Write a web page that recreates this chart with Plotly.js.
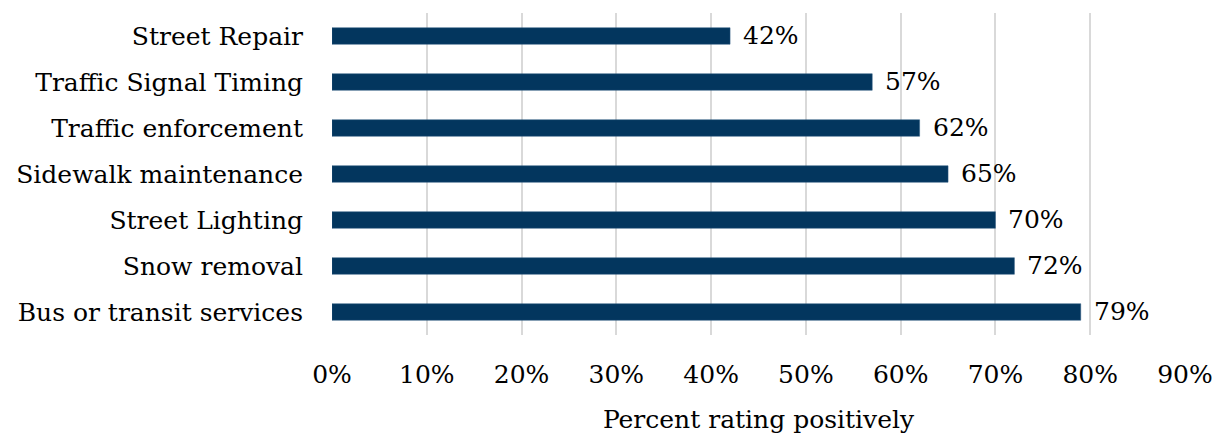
<!DOCTYPE html>
<html>
<head>
<meta charset="utf-8">
<script src="https://cdn.plot.ly/plotly-3.0.1.min.js"></script>
<style>html,body{margin:0;padding:0;background:#fff;}#chart{width:1217px;height:435px;}</style>
</head>
<body>
<div id="chart"></div>
<script>
const categories = ["Bus or transit services","Snow removal","Street Lighting","Sidewalk maintenance","Traffic enforcement","Traffic Signal Timing","Street Repair"];
const values = [79, 72, 70, 65, 62, 57, 42];
const tickVals = [0,10,20,30,40,50,60,70,80,90];
const tickText = tickVals.map(v => v + "%");
const labels = values.map(v => v + "%");

const FONT = "DejaVu Serif, serif";
const FS = 25;
const trace = {
  type: "bar",
  orientation: "h",
  x: values,
  y: categories,
  marker: {color: "#03365E", line: {color: "#2E5A80", width: 0.5}},
  hoverinfo: "skip"
};
const annotations = values.map((v, i) => ({
  x: v, y: categories[i], xref: "x", yref: "y",
  text: labels[i], showarrow: false, xanchor: "left", xshift: 11, yshift: 1,
  font: {family: FONT, size: FS, color: "#000"}
}));
const layout = {
  width: 1217, height: 435,
  margin: {l: 332, r: 32, t: 13, b: 100},
  paper_bgcolor: "#fff", plot_bgcolor: "#fff",
  bargap: 0.64,
  showlegend: false,
  font: {family: FONT, size: FS, color: "#000"},
  xaxis: {
    range: [0, 90], tickvals: tickVals, ticktext: tickText,
    showgrid: true, gridcolor: "#D9D9D9", gridwidth: 2,
    zeroline: false, showline: false, ticks: "",
    ticklabelstandoff: 22,
    tickfont: {family: FONT, size: FS, color: "#000"},
    title: {text: "Percent rating positively", font: {family: FONT, size: FS, color: "#000"}, standoff: 22}
  },
  yaxis: {
    showgrid: false, zeroline: false, showline: false, ticks: "",
    ticklabelstandoff: 28,
    tickfont: {family: FONT, size: FS, color: "#000"},
    automargin: false
  },
  annotations: annotations
};
Plotly.newPlot("chart", [trace], layout, {displayModeBar: false, staticPlot: true});
</script>
</body>
</html>
